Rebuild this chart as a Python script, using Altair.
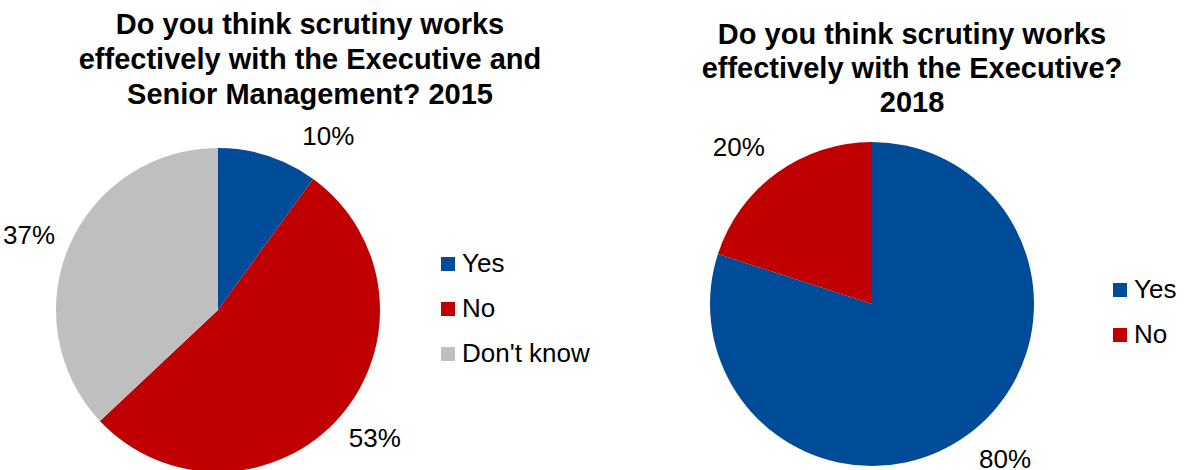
import altair as alt
import pandas as pd

cats_2015 = ["Yes", "No", "Don't know"]
vals_2015 = [10, 53, 37]
cats_2018 = ["Yes", "No"]
vals_2018 = [80, 20]
colors_2015 = ["#004C99", "#C00000", "#BFBFBF"]
colors_2018 = ["#004C99", "#C00000"]
title_2015 = ["Do you think scrutiny works", "effectively with the Executive and", "Senior Management? 2015"]
title_2018 = ["Do you think scrutiny works", "effectively with the Executive?", "2018"]

FONT = "Liberation Sans"


def frame(cats, vals):
    df = pd.DataFrame({"answer": cats, "pct": vals, "idx": list(range(len(cats)))})
    df["label"] = df["pct"].astype(str) + "%"
    return df


df15 = frame(cats_2015, vals_2015)
df18 = frame(cats_2018, vals_2018)


def legend(x, y):
    return alt.Legend(
        title=None, orient="none", legendX=x, legendY=y,
        symbolType="square", symbolSize=196, symbolStrokeWidth=0,
        labelFont=FONT, labelFontSize=26, labelColor="#000000",
        labelOffset=1, rowPadding=19, padding=0,
    )


# 2015 pie
cx15, cy15 = 218, 310
base15 = alt.Chart(df15).encode(order=alt.Order("idx:Q"))
arc15 = base15.mark_arc(radius=162).encode(
    theta=alt.Theta("pct:Q", stack=True),
    color=alt.Color("answer:N", scale=alt.Scale(domain=cats_2015, range=colors_2015),
                    legend=legend(435, 251)),
    x=alt.value(cx15), y=alt.value(cy15),
)
lab15 = base15.mark_text(radius=203, font=FONT, fontSize=26, color="#000000").encode(
    theta=alt.Theta("pct:Q", stack=True, scale=alt.Scale(range=[-0.035, 6.2482])),
    text=alt.condition(alt.datum.answer != "Yes", "label:N", alt.value("")),
    x=alt.value(cx15), y=alt.value(cy15),
)
lab15_yes = base15.mark_text(radius=205, font=FONT, fontSize=26, color="#000000", dx=47, dy=22).encode(
    theta=alt.Theta("pct:Q", stack=True),
    text=alt.condition(alt.datum.answer == "Yes", "label:N", alt.value("")),
    x=alt.value(cx15), y=alt.value(cy15),
)

# 2018 pie
cx18, cy18 = 872, 304
base18 = alt.Chart(df18).encode(order=alt.Order("idx:Q"))
arc18 = base18.mark_arc(radius=162).encode(
    theta=alt.Theta("pct:Q", stack=True),
    color=alt.Color("answer:N", scale=alt.Scale(domain=cats_2018, range=colors_2018),
                    legend=legend(1107, 277)),
    x=alt.value(cx18), y=alt.value(cy18),
)
lab18 = base18.mark_text(radius=205, font=FONT, fontSize=26, color="#000000").encode(
    theta=alt.Theta("pct:Q", stack=True, scale=alt.Scale(range=[-0.0785, 6.2047])),
    text="label:N",
    x=alt.value(cx18), y=alt.value(cy18),
)

# Titles
dummy = alt.Data(values=[{}])
t15 = alt.Chart(dummy).mark_text(
    font=FONT, fontSize=29, fontWeight="bold", color="#000000",
    align="center", baseline="middle", lineHeight=35,
).encode(text=alt.value(title_2015), x=alt.value(310), y=alt.value(25))
t18 = alt.Chart(dummy).mark_text(
    font=FONT, fontSize=29, fontWeight="bold", color="#000000",
    align="center", baseline="middle", lineHeight=34,
).encode(text=alt.value(title_2018), x=alt.value(912), y=alt.value(35))

chart = alt.layer(arc15, lab15, lab15_yes, arc18, lab18, t15, t18).resolve_scale(
    color="independent", theta="independent"
).properties(
    width=1185, height=470, padding=0,
    autosize=alt.AutoSizeParams(type="none"),
    background="#ffffff",
).configure_view(stroke=None)

chart.save("out.html", embed_options={"renderer": "svg", "actions": False})
